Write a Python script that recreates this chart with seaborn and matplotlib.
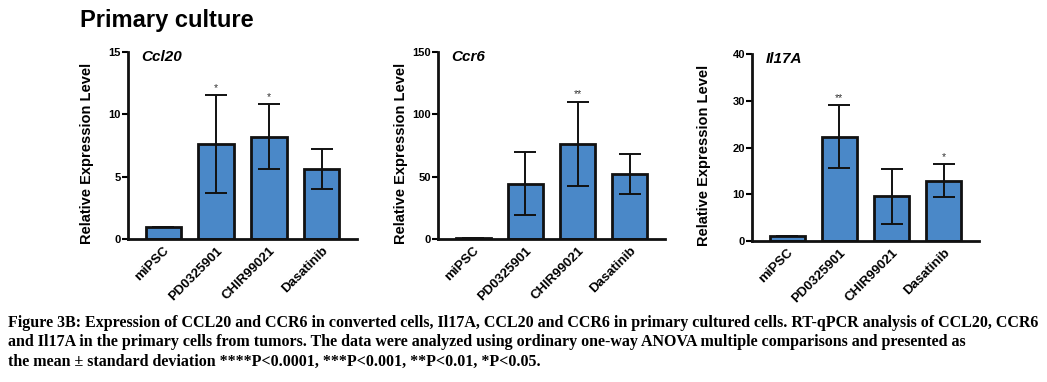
import pandas as pd
import seaborn as sns
import matplotlib.pyplot as plt
import matplotlib.transforms as mtrans

# data (mean and SD per treatment)
groupes = ["miPSC", "PD0325901", "CHIR99021", "Dasatinib"]
genes = ["Ccl20", "Ccr6", "Il17A"]

ccl20_moy = [1.0, 7.6, 8.2, 5.6]
ccl20_sd = [0.0, 3.95, 2.6, 1.6]
ccl20_etoiles = ["", "*", "*", ""]

ccr6_moy = [1.0, 44.4, 76.2, 51.9]
ccr6_sd = [0.0, 25.0, 34.0, 16.0]
ccr6_etoiles = ["", "", "**", ""]

il17a_moy = [1.0, 22.3, 9.6, 12.9]
il17a_sd = [0.0, 6.7, 5.9, 3.5]
il17a_etoiles = ["", "**", "", "*"]

ymax = [15, 150, 40]
ytick_pas = [5, 50, 10]

caption = ("Figure 3B: Expression of CCL20 and CCR6 in converted cells, Il17A, CCL20 and CCR6 in primary cultured cells. RT-qPCR analysis of CCL20, CCR6\n"
           "and Il17A in the primary cells from tumors. The data were analyzed using ordinary one-way ANOVA multiple comparisons and presented as\n"
           "the mean \u00b1 standard deviation ****P<0.0001, ***P<0.001, **P<0.01, *P<0.05.")

sns.set_theme(style="ticks")
plt.rcParams["font.family"] = ["Liberation Sans", "DejaVu Sans"]
plt.rcParams["text.color"] = "black"
plt.rcParams["xtick.color"] = "black"
plt.rcParams["ytick.color"] = "black"
plt.rcParams["axes.labelcolor"] = "black"

fig = plt.figure(figsize=(10.47, 3.82), dpi=100)
W, H = 1047, 382

# axes boxes in pixels: left, right, top, bottom
boites = [(128, 357, 52, 239), (438, 665, 52, 239), (752, 979, 54, 241)]
ylab_x = [-0.148, -0.132, -0.18]

moyennes = [ccl20_moy, ccr6_moy, il17a_moy]
ecarts = [ccl20_sd, ccr6_sd, il17a_sd]
etoiles = [ccl20_etoiles, ccr6_etoiles, il17a_etoiles]

decalage = mtrans.ScaledTranslation(-4 / 72, 0, fig.dpi_scale_trans)

for i in range(3):
    l, r, t, b = boites[i]
    ax = fig.add_axes([l / W, 1 - b / H, (r - l) / W, (b - t) / H])
    df = pd.DataFrame({"Groupe": groupes, "Niveau": moyennes[i]})
    sns.barplot(x="Groupe", y="Niveau", data=df, color="#4a88c8", saturation=1,
                width=0.67, edgecolor="#111111", linewidth=2, errorbar=None, ax=ax)
    ax.errorbar(range(4), moyennes[i], yerr=ecarts[i], fmt="none", ecolor="#111111",
                elinewidth=1.4, capsize=8, capthick=1.4, zorder=3)
    for j in range(4):
        if etoiles[i][j]:
            ax.annotate(etoiles[i][j], (j, moyennes[i][j] + ecarts[i][j]),
                        xytext=(0, 3), textcoords="offset points",
                        ha="center", va="baseline", fontsize=7.5, color="#333333")
    ax.set_xlim(-0.67, 3.67)
    ax.set_ylim(0, ymax[i])
    ax.set_yticks(range(0, ymax[i] + 1, ytick_pas[i]))
    ax.set_xlabel("")
    ax.set_ylabel("Relative Expression Level", fontsize=10.5, fontweight="bold")
    ax.yaxis.set_label_coords(ylab_x[i], 0.46)
    ax.set_xticks(range(4))
    ax.set_xticklabels(groupes, rotation=45, ha="right", rotation_mode="anchor",
                       fontsize=9.5, fontweight="bold")
    for lab in ax.get_xticklabels():
        lab.set_transform(lab.get_transform() + decalage)
    for lab in ax.get_yticklabels():
        lab.set_fontweight("bold")
        lab.set_fontsize(8)
    ax.tick_params(axis="x", length=0, pad=4)
    ax.tick_params(axis="y", length=4, width=1.5, pad=1)
    for s in ["left", "bottom"]:
        ax.spines[s].set_linewidth(2)
        ax.spines[s].set_color("#111111")
    sns.despine(ax=ax)
    ax.text(0.06, 0.973, genes[i], transform=ax.transAxes, fontsize=11,
            fontweight="bold", fontstyle="italic", va="center", ha="left")

fig.text(80 / W, 1 - 20 / H, "Primary culture", fontsize=17, fontweight="bold",
         va="center", ha="left")

fig.text(8 / W, 1 - 315 / H, caption, fontsize=11.5, fontweight="bold",
         family=["Liberation Serif", "DejaVu Serif"], va="top", ha="left",
         linespacing=1.27)

plt.savefig("out.png", dpi=100)
